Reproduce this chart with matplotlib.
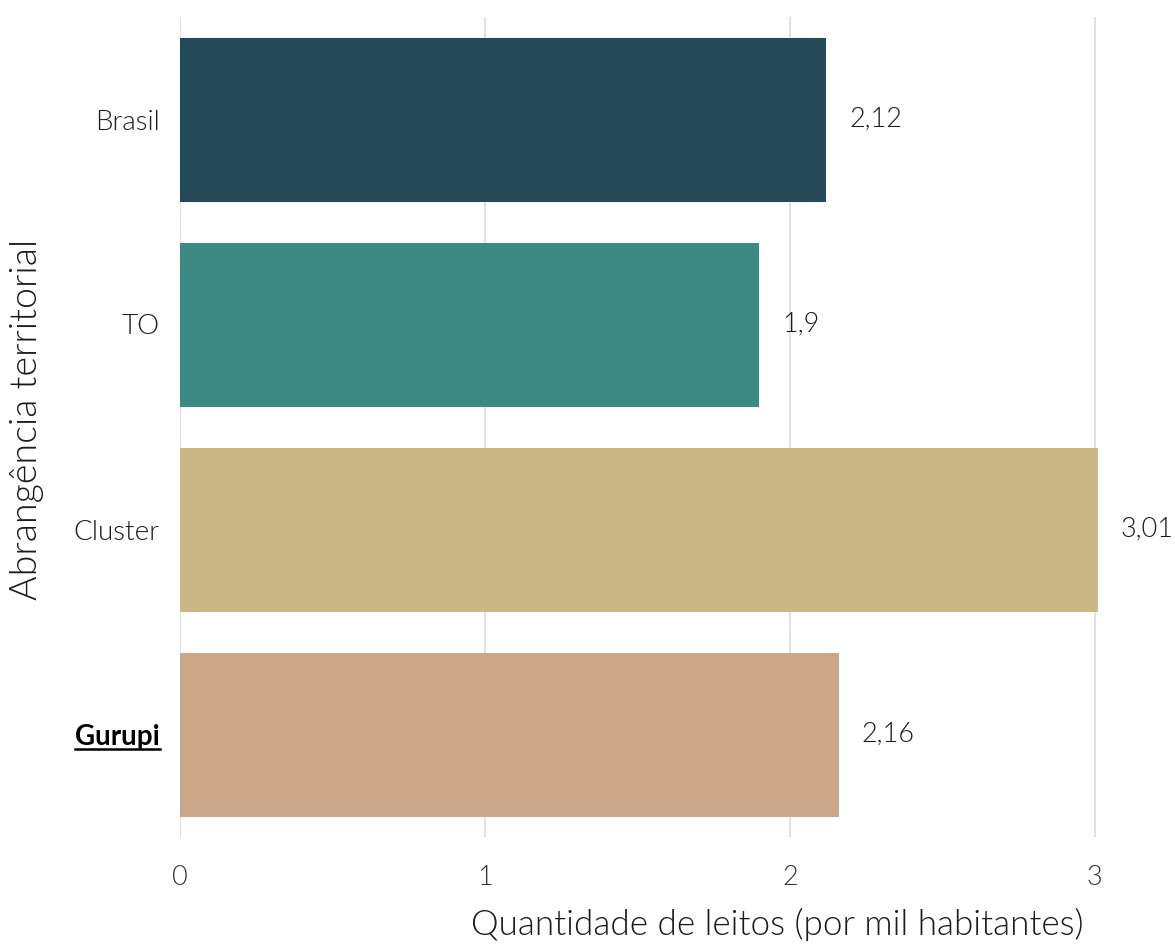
import matplotlib.pyplot as plt
from matplotlib.lines import Line2D

plt.rcParams['font.family'] = ['Lato', 'DejaVu Sans']
plt.rcParams['font.weight'] = 300

categories = ['Brasil', 'TO', 'Cluster', 'Gurupi']
values = [2.12, 1.9, 3.01, 2.16]
labels = ['2,12', '1,9', '3,01', '2,16']
colors = ['#244958', '#3d8a82', '#ccb886', '#cca689']

W, H = 1175, 948
fig = plt.figure(figsize=(W / 100, H / 100), dpi=100)
ax = fig.add_axes([180 / W, 1 - 837 / H, 991 / W, 820 / H])

y = list(range(len(categories)))
ax.barh(y, values, height=0.8, color=colors, zorder=2)
ax.set_xlim(0, 3.25)
ax.set_ylim(3.5, -0.5)

for yi, v, lab in zip(y, values, labels):
    ax.text(v + 0.075, yi, lab, va='center', ha='left', fontsize=19.5,
            fontweight=300, color='#1a1a1a')

ax.set_xticks([0, 1, 2, 3])
ax.set_xticklabels(['0', '1', '2', '3'], fontsize=19.5, fontweight=300, color='#333333')
ax.set_yticks(y)
ax.set_yticklabels(categories, fontsize=20, fontweight=300, color='#1a1a1a')
ax.tick_params(axis='y', length=0, pad=14.5)
ax.tick_params(axis='x', length=0, pad=20)

gur = ax.get_yticklabels()[3]
gur.set_fontweight('bold')
gur.set_color('black')

ax.grid(axis='x', color='#dcdcdc', linewidth=1.2, zorder=0)
for s in ax.spines.values():
    s.set_visible(False)

ax.set_xlabel('Quantidade de leitos (por mil habitantes)', fontsize=25.2,
              fontweight=300, color='#1a1a1a')
ax.xaxis.set_label_coords(0.603, -0.086)
ax.set_ylabel('Abrangência territorial', fontsize=27, fontweight=300,
              color='#1a1a1a')
ax.yaxis.set_label_coords(-0.137, 0.509)

fig.canvas.draw()
bb = gur.get_window_extent().transformed(fig.transFigure.inverted())
yl = bb.y0 + 0.001
fig.add_artist(Line2D([bb.x0, bb.x1], [yl, yl], color='black', linewidth=1.8,
                      transform=fig.transFigure))

fig.savefig('out.png', dpi=100)
